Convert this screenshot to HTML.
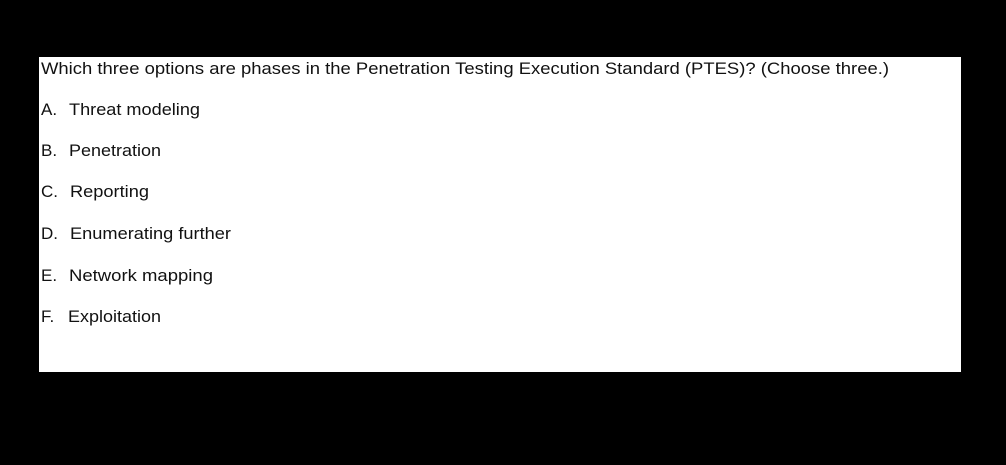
<!DOCTYPE html>
<html><head><style>
html,body{margin:0;padding:0;background:#000;width:1006px;height:465px;overflow:hidden}
svg{display:block}
text{font-family:"Liberation Sans",Arial,sans-serif;font-size:17px;fill:#111}
</style></head><body>
<svg width="1006" height="465">
<rect x="0" y="0" width="1006" height="465" fill="#000"/>
<rect x="39" y="57" width="922" height="315" fill="#fff"/>
<text x="41" y="74" textLength="848" lengthAdjust="spacingAndGlyphs">Which three options are phases in the Penetration Testing Execution Standard (PTES)? (Choose three.)</text>
<text x="41" y="115">A.</text><text x="69" y="115" textLength="131" lengthAdjust="spacingAndGlyphs">Threat modeling</text>
<text x="41" y="156">B.</text><text x="69" y="156" textLength="92" lengthAdjust="spacingAndGlyphs">Penetration</text>
<text x="41" y="197">C.</text><text x="70" y="197" textLength="79" lengthAdjust="spacingAndGlyphs">Reporting</text>
<text x="41" y="239">D.</text><text x="70" y="239" textLength="161" lengthAdjust="spacingAndGlyphs">Enumerating further</text>
<text x="41" y="281">E.</text><text x="69" y="281" textLength="144" lengthAdjust="spacingAndGlyphs">Network mapping</text>
<text x="41" y="322">F.</text><text x="68" y="322" textLength="93" lengthAdjust="spacingAndGlyphs">Exploitation</text>
</svg>
</body></html>
